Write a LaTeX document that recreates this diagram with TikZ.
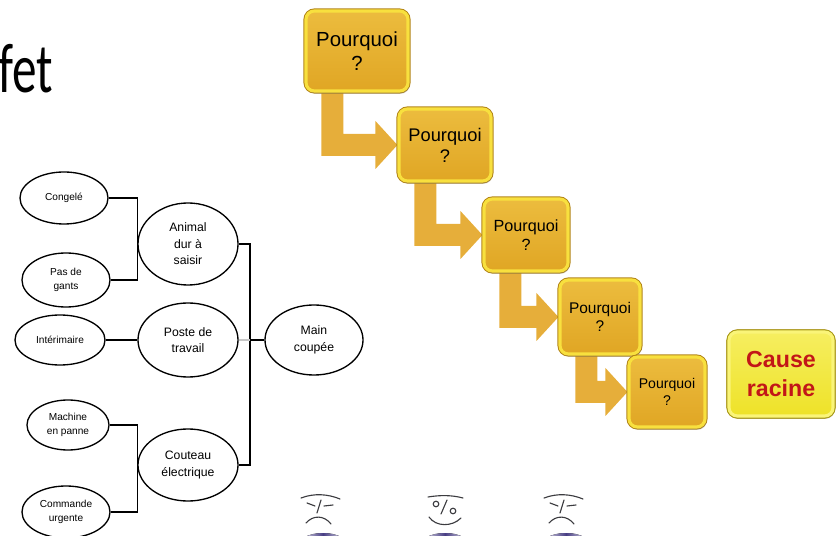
\documentclass[tikz,border=0pt]{standalone}
\usepackage{fontspec}
\setmainfont{Liberation Sans}
\newfontfamily\titlefont{Carlito}
\usetikzlibrary{shapes.geometric,calc,backgrounds,shadows}

\definecolor{whygold}{RGB}{224,166,36}
\definecolor{whytop}{RGB}{236,188,62}
\definecolor{whyrim}{RGB}{248,224,62}
\definecolor{whydark}{RGB}{178,132,22}
\definecolor{arrowgold}{RGB}{230,174,58}
\definecolor{rootfill}{RGB}{238,226,40}
\definecolor{roottop}{RGB}{246,238,96}
\definecolor{rootrim}{RGB}{250,244,120}
\definecolor{rootdark}{RGB}{168,156,24}
\definecolor{rootred}{RGB}{194,22,24}
\definecolor{faceink}{RGB}{60,60,64}
\definecolor{facebase}{RGB}{72,62,132}

\tikzset{
  cause/.style={ellipse, draw, line width=0.95pt, align=center, inner sep=0pt,
    font=\fontsize{7.2}{10}\selectfont},
  bigcause/.style={cause, font=\fontsize{8.7}{11.8}\selectfont},
  link/.style={line width=0.9pt},
  whybox/.style={rectangle, rounded corners=6pt, align=center, inner sep=0pt,
    top color=whytop, bottom color=whygold, draw=whyrim, line width=2.2pt,
    preaction={draw=whydark, line width=3.6pt},
    drop shadow={shadow xshift=1pt, shadow yshift=-2pt, opacity=.25}},
  rootbox/.style={whybox, top color=roottop, bottom color=rootfill, draw=rootrim,
    preaction={draw=rootdark, line width=3.6pt}, text=rootred,
    font=\bfseries\fontsize{16.5}{20.5}\selectfont},
  whyarrow/.style={fill=arrowgold},
  face/.style={draw=faceink, line width=0.8pt, line cap=round},
  title/.style={anchor=base east, inner sep=0pt, font=\titlefont\fontsize{50}{60}\selectfont},
}

% fleche coudee d'un pourquoi au suivant
\newcommand{\whyarrow}[2]{%
  \fill[whyarrow] ($(#1.south west)+(17,-4)$) |- ($(#2.west)+(-22,11)$)
    -- ($(#2.west)+(-22,24)$) -- (#2.west) -- ($(#2.west)+(-22,-24)$)
    -- ($(#2.west)+(-22,-11)$) -| ($(#1.south west)+(39,-4)$) -- cycle;}

\begin{document}
\begin{tikzpicture}[x=0.025cm, y=-0.025cm]
\useasboundingbox (0,0) rectangle (840,536);
\clip (0,0) rectangle (840,536);

\node[title] (titre) at (53,93) {\scalebox{0.7}[1]{fet}};

% arbre des causes
\node[cause, minimum width=2.2cm, minimum height=1.3cm] (congele) at (64,198) {Congelé};
\node[cause, minimum width=2.2cm, minimum height=1.35cm] (gants) at (66,280) {Pas de\\gants};
\node[bigcause, minimum width=2.5cm, minimum height=2.05cm] (animal) at (188,244) {Animal\\dur à\\saisir};
\node[cause, minimum width=2.25cm, minimum height=1.25cm] (interim) at (60,340) {Intérimaire};
\node[bigcause, minimum width=2.5cm, minimum height=1.85cm] (poste) at (188,340) {Poste de\\travail};
\node[bigcause, minimum width=2.45cm, minimum height=1.75cm] (main) at (314,340) {Main\\coupée};
\node[cause, minimum width=2.05cm, minimum height=1.25cm] (machine) at (68,425) {Machine\\en panne};
\node[bigcause, minimum width=2.5cm, minimum height=1.8cm] (couteau) at (188,465) {Couteau\\électrique};
\node[cause, minimum width=2.2cm, minimum height=1.3cm] (commande) at (66,512) {Commande\\urgente};

\coordinate (bus) at (250,340);
\draw[link] (congele.east) -| (animal.west |- gants.east) -- (gants.east);
\draw[link] (machine.east) -| (couteau.west |- commande.east) -- (commande.east);
\draw[link] (interim.east) -- (poste.west);
\draw[link] (animal.east) -| (bus |- couteau.east) -- (couteau.east);
\draw[link, gray!45] (poste.east) -- (bus);
\draw[link] (bus) -- (main.west);

% les cinq pourquoi
\node[whybox, minimum width=2.55cm, minimum height=2.0cm, font=\fontsize{14.5}{17}\selectfont] (w1) at (357,51) {Pourquoi\\?};
\node[whybox, minimum width=2.3cm, minimum height=1.8cm, font=\fontsize{13}{15}\selectfont] (w2) at (445,145) {Pourquoi\\?};
\node[whybox, minimum width=2.1cm, minimum height=1.8cm, font=\fontsize{11.5}{13.5}\selectfont] (w3) at (526,235) {Pourquoi\\?};
\node[whybox, minimum width=2.0cm, minimum height=1.85cm, font=\fontsize{11}{13}\selectfont] (w4) at (600,317) {Pourquoi\\?};
\node[whybox, minimum width=1.9cm, minimum height=1.75cm, font=\fontsize{10}{12}\selectfont] (w5) at (667,392) {Pourquoi\\?};
\node[rootbox, minimum width=2.6cm, minimum height=2.1cm] (racine) at (781,374) {Cause\\racine};

\begin{pgfonlayer}{background}
\whyarrow{w1}{w2}
\whyarrow{w2}{w3}
\whyarrow{w3}{w4}
\whyarrow{w4}{w5}
\end{pgfonlayer}

% visages
\foreach \fx in {320,563} {
  \draw[face] ({\fx-19},498) .. controls ({\fx-6},493) and ({\fx+8},494) .. ({\fx+20},499);
  \draw[face] ({\fx-13},503) -- ({\fx-5},506);
  \draw[face] ({\fx-3},513) -- ({\fx+1},500);
  \draw[face] ({\fx+4},506) -- ({\fx+13},505);
  \draw[face] ({\fx-14},523) .. controls ({\fx-7},515) and ({\fx+4},515) .. ({\fx+11},524);
  \fill[left color=white, right color=white, middle color=facebase] ({\fx+3},547) ellipse [x radius=26, y radius=14];
}
\draw[face] (428,497) .. controls (440,495) and (452,495) .. (463,498);
\draw[face] (436,504) circle [radius=2.8];
\draw[face] (441,514) -- (447,500);
\draw[face] (453,511) circle [radius=2.8];
\draw[face] (429,517) .. controls (436,527) and (452,527) .. (461,518);
\fill[left color=white, right color=white, middle color=facebase] (445,547) ellipse [x radius=26, y radius=14];
\end{tikzpicture}
\end{document}
